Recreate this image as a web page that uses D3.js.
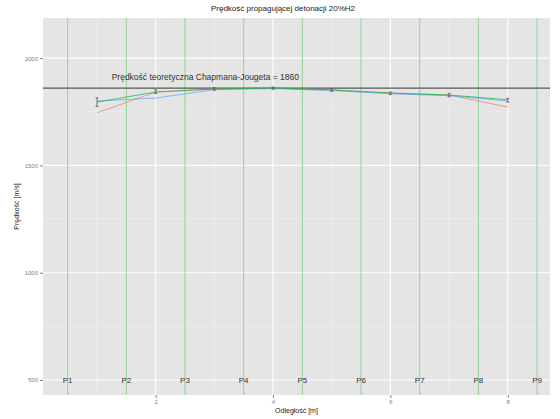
<!DOCTYPE html>
<html>
<head>
<meta charset="utf-8">
<script src="https://cdn.jsdelivr.net/npm/d3@7"></script>
<style>
  html, body { margin: 0; padding: 0; background: #fff; }
  svg { display: block; font-family: "Liberation Sans", Arial, sans-serif; }
</style>
</head>
<body>
<svg id="chart" width="560" height="419"></svg>
<script>
// Sensor positions along the tube and their labels
const sensorPos = [0.5, 1.5, 2.5, 3.5, 4.5, 5.5, 6.5, 7.5, 8.5];
const sensorLabels = ["P1", "P2", "P3", "P4", "P5", "P6", "P7", "P8", "P9"];

// Velocity measured between neighbouring sensors (midpoints)
const midPos = [1, 2, 3, 4, 5, 6, 7, 8];
const seriesA = [1745, 1842, 1856, 1860, 1851, 1838, 1828, 1772]; // red
const seriesB = [1795, 1842, 1856, 1861, 1852, 1837, 1828, 1806]; // green
const seriesC = [1800, 1814, 1853, 1858, 1849, 1834, 1825, 1800]; // blue
const errLow  = [1775, 1835, 1850, 1855, 1845, 1830, 1820, 1795];
const errHigh = [1815, 1852, 1862, 1865, 1857, 1842, 1836, 1812];

const theoretical = 1860;
const xTicks = [2, 4, 6, 8];
const yTicks = [500, 1000, 1500, 2000];
const xMinor = [1, 3, 5, 7];
const yMinor = [750, 1250, 1750];

const svg = d3.select("#chart");
const M = { left: 43, right: 550, top: 18, bottom: 395 };

const x = d3.scaleLinear().domain([0.08, 8.72]).range([M.left, M.right]);
const y = d3.scaleLinear().domain([430, 2187]).range([M.bottom, M.top]);

// panel background
svg.append("rect").attr("x", M.left).attr("y", M.top)
  .attr("width", M.right - M.left).attr("height", M.bottom - M.top)
  .attr("fill", "#E5E5E5");

const grid = svg.append("g");
xMinor.forEach(v => grid.append("line").attr("x1", x(v)).attr("x2", x(v))
  .attr("y1", M.top).attr("y2", M.bottom).attr("stroke", "#F2F2F2").attr("stroke-width", 0.6));
yMinor.forEach(v => grid.append("line").attr("y1", y(v)).attr("y2", y(v))
  .attr("x1", M.left).attr("x2", M.right).attr("stroke", "#F2F2F2").attr("stroke-width", 0.6));
xTicks.forEach(v => grid.append("line").attr("x1", x(v)).attr("x2", x(v))
  .attr("y1", M.top).attr("y2", M.bottom).attr("stroke", "#FFFFFF").attr("stroke-width", 1.1));
yTicks.forEach(v => grid.append("line").attr("y1", y(v)).attr("y2", y(v))
  .attr("x1", M.left).attr("x2", M.right).attr("stroke", "#FFFFFF").attr("stroke-width", 1.1));

// sensor marker lines
svg.append("g").selectAll("line").data(sensorPos).join("line")
  .attr("x1", d => x(d)).attr("x2", d => x(d))
  .attr("y1", M.top).attr("y2", M.bottom)
  .attr("stroke", "#9AD69A").attr("stroke-width", 1.1);

// theoretical CJ velocity
svg.append("line").attr("x1", M.left).attr("x2", M.right)
  .attr("y1", y(theoretical)).attr("y2", y(theoretical))
  .attr("stroke", "#555").attr("stroke-width", 1.3);
svg.append("text").attr("x", x(1.25)).attr("y", y(theoretical) - 8)
  .attr("font-size", 8.5).attr("fill", "#333")
  .text("Prędkość teoretyczna Chapmana-Jougeta = " + theoretical);

// measured series
const line = d3.line().x((d, i) => x(midPos[i])).y(d => y(d));
[[seriesA, "#F8766D"], [seriesC, "#619CFF"], [seriesB, "#00BA38"]].forEach(([s, c]) => {
  svg.append("path").datum(s).attr("d", line)
    .attr("fill", "none").attr("stroke", c).attr("stroke-width", 1).attr("opacity", 0.7);
});

// error bars
const eb = svg.append("g").attr("stroke", "#555").attr("stroke-width", 0.8);
midPos.forEach((m, i) => {
  eb.append("line").attr("x1", x(m)).attr("x2", x(m)).attr("y1", y(errLow[i])).attr("y2", y(errHigh[i]));
  eb.append("line").attr("x1", x(m) - 1.5).attr("x2", x(m) + 1.5).attr("y1", y(errLow[i])).attr("y2", y(errLow[i]));
  eb.append("line").attr("x1", x(m) - 1.5).attr("x2", x(m) + 1.5).attr("y1", y(errHigh[i])).attr("y2", y(errHigh[i]));
});

// sensor labels
svg.append("g").selectAll("text").data(sensorPos).join("text")
  .attr("x", d => x(d)).attr("y", y(500) + 3)
  .attr("text-anchor", "middle").attr("font-size", 8).attr("fill", "#333")
  .text((d, i) => sensorLabels[i]);

// axes
const xAxis = d3.axisBottom(x).tickValues(xTicks).tickSize(3).tickPadding(2).tickFormat(d3.format("d"));
const gx = svg.append("g").attr("transform", `translate(0,${M.bottom})`).call(xAxis);
const yAxis = d3.axisLeft(y).tickValues(yTicks).tickSize(3).tickPadding(2).tickFormat(d3.format("d"));
const gy = svg.append("g").attr("transform", `translate(${M.left},0)`).call(yAxis);
[gx, gy].forEach(g => {
  g.select(".domain").remove();
  g.selectAll(".tick line").attr("stroke", "#7F7F7F");
  g.selectAll(".tick text").attr("fill", "#7F7F7F").attr("font-size", 6)
    .attr("font-family", "Liberation Sans, Arial, sans-serif");
});

// titles
svg.append("text").attr("x", 283).attr("y", 11).attr("text-anchor", "middle")
  .attr("font-size", 8).attr("fill", "#222").text("Prędkość propagującej detonacji 20%H2");
svg.append("text").attr("x", (M.left + M.right) / 2).attr("y", 413).attr("text-anchor", "middle")
  .attr("font-size", 7).attr("fill", "#222").text("Odległość [m]");
svg.append("text").attr("transform", `translate(19,${(M.top + M.bottom) / 2}) rotate(-90)`)
  .attr("text-anchor", "middle").attr("font-size", 7).attr("fill", "#222").text("Prędkość [m/s]");
</script>
</body>
</html>
